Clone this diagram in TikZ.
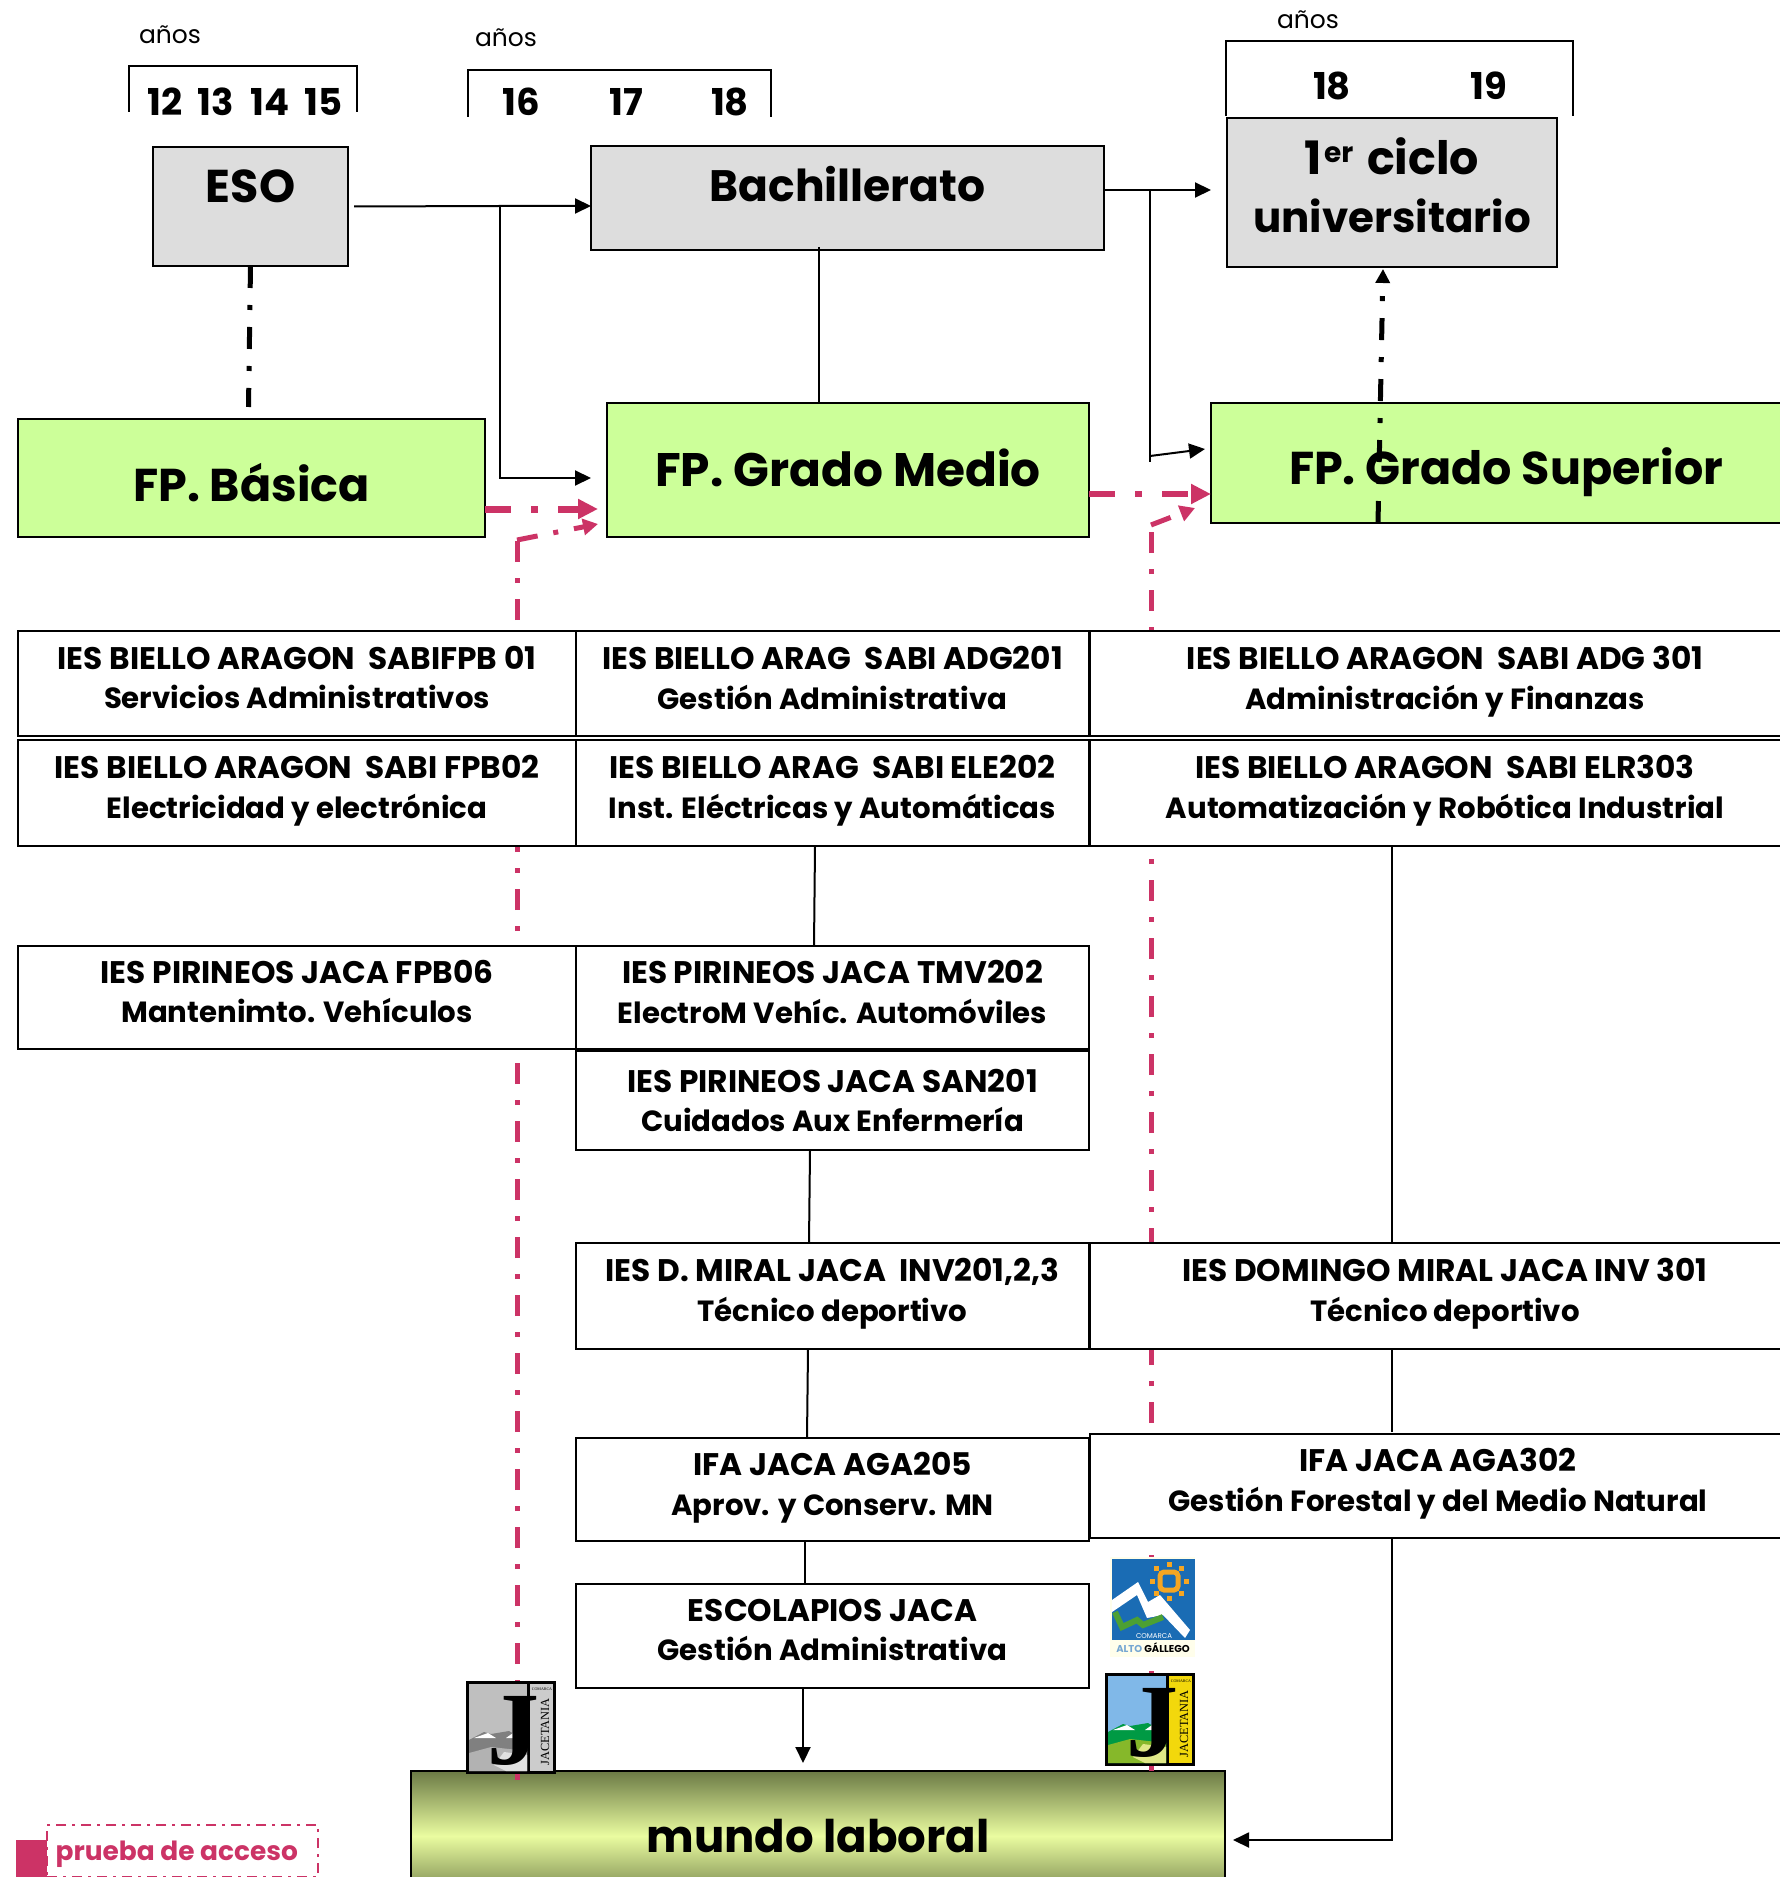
\documentclass[tikz,border=0pt]{standalone}
\usepackage{fontspec}
\setmainfont{Poppins}
\newfontfamily\logofont{Liberation Serif}
\usetikzlibrary{arrows.meta}
\definecolor{rosa}{HTML}{CC3366}
\definecolor{gris}{HTML}{DDDDDD}
\definecolor{verde}{HTML}{CCFF99}
\definecolor{oliva}{HTML}{6B7A45}
\definecolor{limon}{HTML}{EAFCA0}
\definecolor{azulag}{HTML}{1A6CB4}
\definecolor{verdeag}{HTML}{4CA033}
\definecolor{solag}{HTML}{F5A623}
\newcommand{\bajo}{\fontsize{14.6}{19.8}\selectfont\strut}
\tikzset{
    jlogo/.pic={
        \fill[black] (0,0) rectangle (90,93);
        \fill[jcielo] (3,3) rectangle (61,90);
        \fill[jtira] (64,3) rectangle (87,90);
        \fill[jcolina] (3,59) -- (18,51) -- (25,53) -- (43,50) -- (61,61) -- (61,90) -- (3,90) -- cycle;
        \fill[jsuelo] (3,72) -- (25,66) -- (61,70) -- (61,90) -- (3,90) -- cycle;
        \fill[jclaro] (28,84) -- (38,71) -- (61,74) -- (61,90) -- (40,90) -- cycle;
        \fill[white] (8,57) -- (22,52) -- (30,57) -- cycle;
        \fill[white] (40,57) -- (47,52) -- (53,57) -- cycle;
        \node[inner sep=0pt,text=black,font=\logofont\bfseries\fontsize{52}{52}\selectfont] (letra) at (47,50) {J};
        \node[inner sep=0pt,text=black,rotate=90,font=\logofont\fontsize{6.2}{7}\selectfont] (nombre) at (79,51) {JACETANIA};
        \node[inner sep=0pt,text=black,font=\logofont\fontsize{2}{2.5}\selectfont] (comarca) at (76,8) {COMARCA};
    }
}
\begin{document}
\begin{tikzpicture}[
        x=0.5pt,y=-0.5pt,
        line width=1pt,
        caja/.style={draw,anchor=north west,inner sep=0pt,outer sep=0pt,align=center,font=\bfseries\fontsize{15.6}{19.8}\selectfont},
        col1/.style={caja,fill=white,minimum width=279pt},
        col2/.style={caja,fill=white,minimum width=256.5pt},
        col3/.style={caja,fill=white,minimum width=355pt},
        grande/.style={caja,font=\bfseries\fontsize{23}{29}\selectfont},
        titulo/.style={font=\bfseries\fontsize{23}{29}\selectfont},
        anos/.style={font=\fontsize{12.5}{14}\selectfont},
        edad/.style={font=\bfseries\fontsize{18.5}{19}\selectfont},
        flecha/.style={-{Triangle[length=8pt,width=7.5pt]}},
        negra/.style={line width=2.5pt,dash pattern=on 11pt off 8.5pt on 2.5pt off 8.5pt},
        rosagrueso/.style={rosa,line width=3.5pt,dash pattern=on 13pt off 10pt on 3.5pt off 10pt,-{Triangle[length=10pt,width=9.5pt]}},
        rosamedio/.style={rosa,line width=2.5pt,dash pattern=on 10.5pt off 8pt on 2.5pt off 8pt}]
    \useasboundingbox (0,0) rectangle (1780,1877);

    % fondo: mundo laboral y lineas de acceso
    \node[caja,top color=oliva,bottom color=oliva,middle color=limon,minimum width=407pt,minimum height=65pt,font=\bfseries\fontsize{22.5}{29}\selectfont] (mundo) at (411,1771) {mundo laboral};
    \coordinate (piea) at (517,1780);
    \coordinate (codoa) at (517,540);
    \coordinate (puntaa) at (598,524);
    \coordinate (pieb) at (1151,1771);
    \coordinate (codob) at (1151,525);
    \coordinate (puntab) at (1195,508);
    \draw[rosamedio] (piea) -- (codoa);
    \draw[rosamedio] (pieb) -- (codob);

    % fila de arriba
    \node[grande,fill=gris,minimum width=97.5pt,minimum height=59.5pt,label={[titulo,yshift=10pt]center:ESO}] (eso) at (153,147) {};
    \node[grande,fill=gris,minimum width=256.5pt,minimum height=52pt,label={[font=\bfseries\fontsize{22}{29}\selectfont,yshift=7pt]center:Bachillerato}] (bach) at (591,146) {};
    \node[grande,fill=gris,minimum width=165pt,minimum height=74.5pt,label={[align=center,font=\bfseries\fontsize{21}{29}\selectfont,yshift=3.6pt]center:{\fontsize{23}{29}\selectfont 1\hspace{1pt}\raisebox{6pt}{\fontsize{14}{14}\selectfont er}\hspace{2pt} ciclo}\\universitario}] (ciclo) at (1227,118) {};

    \node[grande,fill=verde,minimum width=233.5pt,minimum height=59pt,label={[titulo,yshift=-2.4pt]center:FP. Básica}] (basica) at (18,419) {};
    \node[grande,fill=verde,minimum width=241pt,minimum height=67pt,label={[font=\bfseries\fontsize{23.5}{29}\selectfont,yshift=1.2pt]center:FP. Grado Medio}] (medio) at (607,403) {};
    \node[grande,fill=verde,minimum width=295pt,minimum height=60pt,label={[titulo,yshift=-4.8pt]center:FP. Grado Superior}] (superior) at (1211,403) {};

    % cajas de centros
    \node[col1,minimum height=52.5pt] (fpb01) at (18,631) {IES BIELLO ARAGON\ \ SABIFPB 01\\\bajo Servicios Administrativos};
    \node[col2,minimum height=52.5pt] (adg201) at (576,631) {IES BIELLO ARAG\ \ SABI ADG201\\\bajo Gestión Administrativa};
    \node[col3,minimum height=52.5pt] (adg301) at (1090,631) {IES BIELLO ARAGON\ \ SABI ADG 301\\\bajo Administración y Finanzas};
    \node[col1,minimum height=53pt] (fpb02) at (18,740) {IES BIELLO ARAGON\ \ SABI FPB02\\\bajo Electricidad y electrónica};
    \node[col2,minimum height=53pt] (ele202) at (576,740) {IES BIELLO ARAG\ \ SABI ELE202\\\bajo Inst. Eléctricas y Automáticas};
    \node[col3,minimum height=53pt] (elr303) at (1090,740) {IES BIELLO ARAGON\ \ SABI ELR303\\\bajo Automatización y Robótica Industrial};
    \node[col1,minimum height=51.5pt] (fpb06) at (18,946) {IES PIRINEOS JACA FPB06\\\bajo Mantenimto. Vehículos};
    \node[col2,minimum height=51.5pt] (tmv202) at (576,946) {IES PIRINEOS JACA TMV202\\\bajo ElectroM Vehíc. Automóviles};
    \node[col2,minimum height=49.5pt] (san201) at (576,1051) {IES PIRINEOS JACA SAN201\\\fontsize{14.6}{19.8}\selectfont Cuidados Aux Enfermería};
    \node[col2,minimum height=53pt] (inv201) at (576,1243) {IES D. MIRAL JACA\ \ INV201,2,3\\\bajo Técnico deportivo};
    \node[col3,minimum height=53pt] (inv301) at (1090,1243) {IES DOMINGO MIRAL JACA INV 301\\\bajo Técnico deportivo};
    \node[col2,minimum height=51.5pt] (aga205) at (576,1438) {IFA JACA AGA205\\\bajo Aprov. y Conserv. MN};
    \node[col3,minimum height=52pt,minimum width=348pt] (aga302) at (1090,1434) {IFA JACA AGA302\\\bajo Gestión Forestal y del Medio Natural};
    \node[col2,minimum height=52pt] (escolapios) at (576,1584) {ESCOLAPIOS JACA\\\bajo Gestión Administrativa};

    % años
    \draw (129,112) |- (357,66) -- (357,112);
    \draw (468,117) |- (771,70) -- (771,117);
    \draw (1226,116) |- (1573,41) -- (1573,116);
    \node[anos] (anosa) at (170,35) {años};
    \node[anos] (anosb) at (506,38) {años};
    \node[anos] (anosc) at (1308,20) {años};
    \node[edad] (e12) at (245,102) {12\hspace{4pt} 13\hspace{4pt} 14\hspace{4pt} 15};
    \node[edad] (e16) at (521,102) {16};
    \node[edad] (e17) at (626,102) {17};
    \node[edad] (e18) at (730,102) {18};
    \node[edad] (f18) at (1332,86) {18};
    \node[edad] (f19) at (1489,86) {19};

    % conexiones
    \coordinate (ramaa) at (500,206);
    \coordinate (ramab) at (1150,190);
    \coordinate (finb) at (1150,462);
    \draw[flecha] ([xshift=3pt]eso.east) -- (ramaa) -- (bach.west |- ramaa);
    \draw[flecha] (ramaa) |- ([xshift=-8pt,yshift=-4pt]medio.west);
    \draw[flecha] ([yshift=4pt]bach.east) -- ([xshift=-8pt]ciclo.west |- ramab);
    \draw (ramab) -- (finb);
    \draw[flecha] (1150,456) -- ([xshift=-3pt,yshift=7pt]superior.west);
    \draw ([xshift=-14.5pt,yshift=1.5pt]bach.south) -- ([xshift=-14.5pt]bach.south |- medio.north);
    \draw ([xshift=-8.75pt]ele202.south) -- ([xshift=-9.25pt]tmv202.north);
    \draw ([xshift=-11.25pt]san201.south) -- ([xshift=-11.75pt]inv201.north);
    \draw ([xshift=-12.25pt]inv201.south) -- ([xshift=-12.75pt]aga205.north);
    \draw ([xshift=-13.75pt]aga205.south) -- ([xshift=-13.75pt]escolapios.north);
    \draw[flecha] ([xshift=-14.75pt]escolapios.south) -- ([xshift=-7.5pt,yshift=4pt]mundo.north);
    \draw ([xshift=-26.5pt]elr303.south) -- ([xshift=-26.5pt]inv301.north);
    \draw ([xshift=-26.5pt]inv301.south) -- ([xshift=-23pt,yshift=1pt]aga302.north);
    \coordinate (vuelta) at (1392,1840);
    \draw[flecha] (aga302.south -| vuelta) -- (vuelta) -- ([xshift=4pt]mundo.east |- vuelta);

    % accesos
    \draw[negra] (eso.south) -- ([xshift=-1pt]eso.south |- 0,407);
    \draw[negra,-{Triangle[length=7pt,width=7pt]}] (1378,523) -- (1383,269);
    \draw[rosagrueso] (basica.east |- 0,509) -- (598,509);
    \draw[rosagrueso,line width=3pt] (medio.east |- 0,494) -- (1211,494);
    \draw[rosamedio,-{Triangle[length=7.5pt,width=8pt]}] (codoa) -- (puntaa);
    \draw[rosamedio,-{Triangle[length=7.5pt,width=8pt]}] (codob) -- (puntab);

    % logos
    \begin{scope}[shift={(466,1681)}]
        \colorlet{jcielo}{black!25}\colorlet{jtira}{black!20}\colorlet{jcolina}{black!50}\colorlet{jsuelo}{black!30}\colorlet{jclaro}{black!12}
        \pic (gris) {jlogo};
    \end{scope}
    \begin{scope}[shift={(1105,1673)}]
        \definecolor{jcielo}{HTML}{80B8E8}\definecolor{jtira}{HTML}{F2D80C}\definecolor{jcolina}{HTML}{009A44}\definecolor{jsuelo}{HTML}{86B82A}\definecolor{jclaro}{HTML}{E0E888}
        \pic (color) {jlogo};
    \end{scope}
    \fill[yellow!8] (1110,1557) rectangle (1195,1657);
    \fill[azulag] (1112,1559) rectangle (1195,1640);
    \fill[white] (1112,1600) -- (1138,1582) -- (1148,1602) -- (1160,1595) -- (1190,1630) -- (1185,1638) -- (1163,1615) -- (1147,1618) -- (1137,1595) -- (1112,1612) -- cycle;
    \draw[verdeag,line width=3pt] (1115,1612) -- (1122,1627) -- (1137,1620) -- (1143,1625) -- (1163,1617);
    \draw[solag,line width=2.5pt,rounded corners=2pt] (1160,1572) rectangle (1178,1590);
    \foreach \ang in {0,45,...,315}
        \fill[solag] (1169,1581) ++(\ang:8.5pt) +(-2.5,-2.5) rectangle +(2.5,2.5);
    \node[text=white,font=\fontsize{3.5}{4}\selectfont] (comarcaag) at (1154,1636) {COMARCA};
    \node[font=\bfseries\fontsize{5}{5}\selectfont] (altoag) at (1153,1648) {\textcolor{azulag!60}{ALTO} GÁLLEGO};

    % leyenda
    \fill[rosa] (16,1840) rectangle (47,1880);
    \node[draw=rosa,line width=1pt,dash pattern=on 5pt off 3pt on 1.5pt off 3pt,fill=white,anchor=north west,inner sep=0pt,outer sep=0pt,minimum width=135.5pt,minimum height=26pt] (leyenda) at (47,1825) {};
    \node[text=rosa,anchor=west,font=\bfseries\fontsize{13.2}{15}\selectfont] (prueba) at (48,1854) {prueba de acceso};
\end{tikzpicture}
\end{document}
